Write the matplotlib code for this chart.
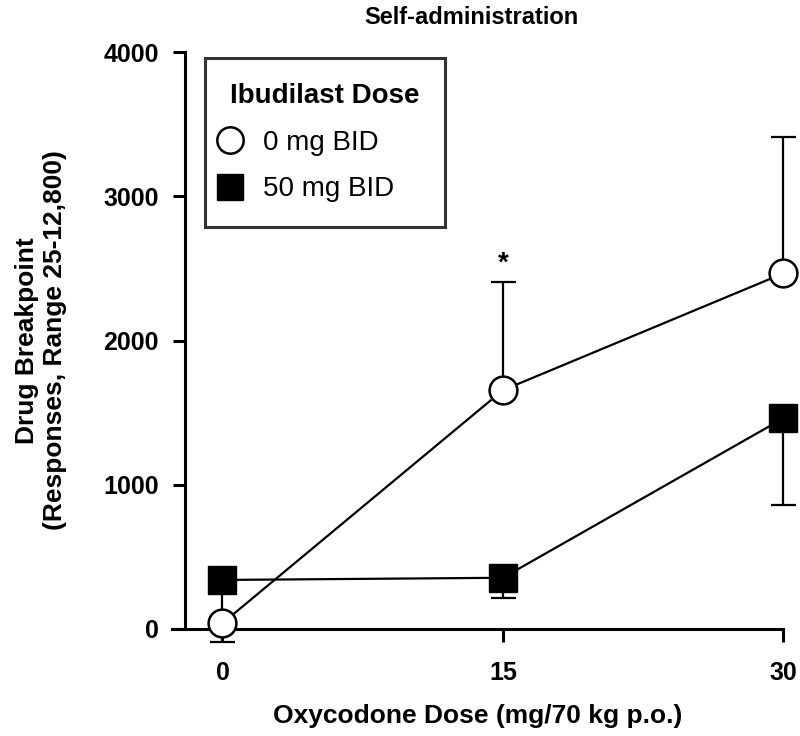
import matplotlib.pyplot as plt

# oxycodone dose (mg/70 kg p.o.)
doses = [0, 15, 30]

# ibudilast 0 mg BID (open circles)
placebo_mean = [40, 1655, 2465]
placebo_err_low = [130, 0, 0]
placebo_err_high = [0, 750, 945]

# ibudilast 50 mg BID (filled squares)
ibud_mean = [340, 355, 1460]
ibud_err_low = [255, 140, 600]
ibud_err_high = [0, 0, 0]

x_ticks = [0, 15, 30]
y_ticks = [0, 1000, 2000, 3000, 4000]

plt.rcParams['font.family'] = ['Liberation Sans', 'DejaVu Sans']
plt.rcParams['font.weight'] = 'bold'

fig = plt.figure(figsize=(8, 7.36), dpi=100)
ax = fig.add_axes([0.215, 0.1454, 0.764, 0.7839])

lw = 2.2
ax.errorbar(doses, placebo_mean, yerr=[placebo_err_low, placebo_err_high], fmt='none',
            ecolor='black', elinewidth=1.6, capsize=9, capthick=1.6, zorder=2, clip_on=False)
ax.errorbar(doses, ibud_mean, yerr=[ibud_err_low, ibud_err_high], fmt='none',
            ecolor='black', elinewidth=1.6, capsize=9, capthick=1.6, zorder=2, clip_on=False)
ax.plot(doses, ibud_mean, color='black', lw=1.6, marker='s', ms=20, mfc='black', mec='black',
        label='50 mg BID', zorder=3, clip_on=False)
ax.plot(doses, placebo_mean, color='black', lw=1.6, marker='o', ms=20, mfc='white', mec='black',
        mew=1.8, label='0 mg BID', zorder=4, clip_on=False)

ax.text(15, 2405 + 40, '*', ha='center', va='bottom', fontsize=20, fontweight='bold')

ax.set_xlim(-2.7, 30)
ax.set_ylim(0, 4000)
ax.spines['top'].set_visible(False)
ax.spines['right'].set_visible(False)
ax.spines['left'].set_position(('data', -2))
ax.spines['left'].set_linewidth(lw)
ax.spines['bottom'].set_linewidth(lw)
ax.set_xticks(x_ticks)
ax.set_yticks(y_ticks)
ax.tick_params(axis='both', width=lw, length=9, labelsize=18, pad=10)
ax.tick_params(axis='x', pad=14)

ax.set_xlabel('Oxycodone Dose (mg/70 kg p.o.)', fontsize=19, fontweight='bold', labelpad=14)
ax.set_ylabel('Drug Breakpoint\n(Responses, Range 25-12,800)', fontsize=19, fontweight='bold',
              labelpad=26)
ax.set_title('Self-administration', fontsize=17, fontweight='bold', pad=20, x=0.49)

handles, labels = ax.get_legend_handles_labels()
leg = ax.legend(handles[::-1], labels[::-1], title='Ibudilast Dose', loc='upper left',
                bbox_to_anchor=(0.054, 0.99), frameon=True, fancybox=False, edgecolor='black',
                handlelength=0, markerscale=0.95, handletextpad=1.2, borderpad=0.9,
                labelspacing=0.75, borderaxespad=0,
                prop={'size': 20, 'weight': 'normal'},
                title_fontproperties={'size': 20, 'weight': 'bold'})
leg.get_frame().set_linewidth(lw)
leg._legend_box.align = 'left'

fig.savefig('out.png', dpi=100)
